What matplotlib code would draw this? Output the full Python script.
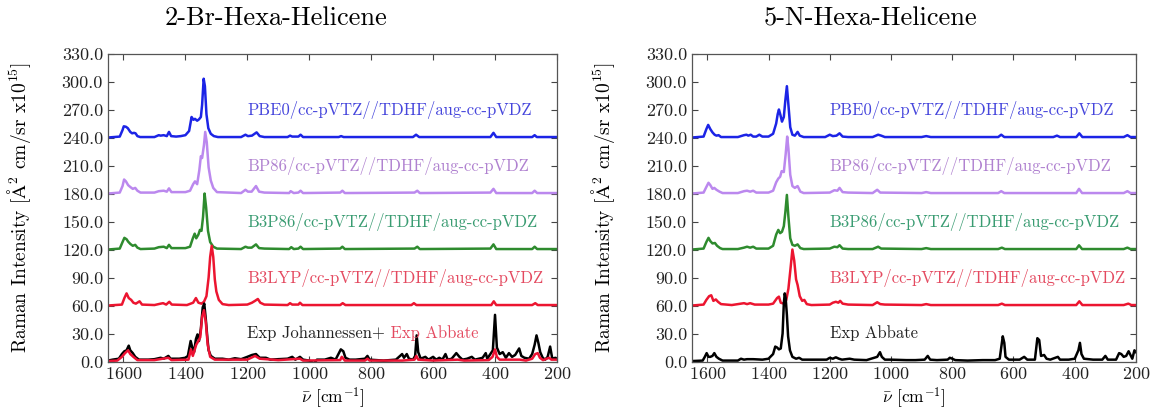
import numpy as np
import matplotlib
matplotlib.use("Agg")
import matplotlib.pyplot as plt

plt.rcParams['font.family'] = ['cmr10', 'DejaVu Serif']
plt.rcParams['mathtext.fontset'] = 'cm'
plt.rcParams['axes.unicode_minus'] = False
plt.rcParams['axes.formatter.use_mathtext'] = True

# ---- 2-Br-Hexa-Helicene : (wavenumber, intensity) ----
br_pbe0 = [(1650,240),(1612,241),(1603,248),(1599,252),(1592,251.5),(1586,250),(1578,246),(1572,244.5),
           (1566,245),(1561,244.5),(1555,241.5),(1546,240.5),(1500,240.5),(1486,242.5),(1480,242),
           (1470,242.5),(1460,241.5),(1453,246),(1446,241.5),(1430,241),(1415,241.5),(1400,242.5),
           (1388,247),(1380,262),(1374,259),(1369,260),(1362,258),(1356,259.5),(1350,262),(1346,275),
           (1341,303),(1337,295),(1332,265),(1326,250),(1318,244),(1308,241.5),(1295,240.5),(1220,240.5),
           (1206,243),(1198,241.5),(1185,242),(1170,245.5),(1160,241.5),(1145,240.5),(1070,240.5),
           (1062,242),(1055,241),(1035,241),(1028,243),(1020,240.5),(905,240.5),(897,241.5),(889,240.5),
           (665,240.5),(655,243),(645,240.5),(415,240.5),(405,245),(396,240.5),(280,240.5),(272,242.5),
           (265,240.5),(200,240.5)]
br_bp86 = [(1650,180),(1612,181),(1603,188),(1598,195),(1592,193),(1585,189),(1578,187),(1570,185),
           (1562,186),(1555,183),(1545,181),(1500,181),(1486,182.5),(1470,183),(1460,182),(1453,185.5),
           (1445,181.5),(1400,181.5),(1385,183),(1375,190),(1369,193),(1362,190),(1355,205),(1350,220),
           (1346,218),(1340,232),(1336,246),(1331,235),(1325,208),(1318,194),(1310,186),(1298,181.5),
           (1220,180.5),(1206,184),(1198,182),(1186,182),(1172,188),(1162,182),(1145,181),(1065,180.5),
           (1060,182.5),(1050,180.5),(1035,181),(1028,183),(1020,180.5),(900,181),(893,183),(885,180.5),
           (660,181),(651,183),(643,180.5),(415,181),(405,185),(396,180.5),(280,180.5),(272,183),
           (264,180.5),(200,180.5)]
br_b3p86 = [(1650,120),(1612,121),(1603,128),(1597,132.5),(1590,131),(1585,128.5),(1578,126),(1570,124),
            (1562,125),(1555,122),(1545,120.5),(1500,121),(1486,122.5),(1470,123),(1460,121.5),(1453,125),
            (1445,121.5),(1400,121.5),(1385,123),(1376,132),(1370,137),(1365,132),(1358,136),(1353,141),
            (1348,140),(1343,155),(1338,180),(1333,165),(1327,140),(1320,128),(1310,123),(1298,121),
            (1220,120.5),(1206,123),(1198,122),(1186,122),(1172,125.5),(1162,121.5),(1145,121),(1065,120.5),
            (1058,122.5),(1050,120.5),(1035,121),(1028,123),(1020,120.5),(900,121),(893,123),(885,120.5),
            (660,121),(651,123),(643,120.5),(415,121),(405,125.5),(396,120.5),(280,120.5),(272,123),
            (264,120.5),(200,120.5)]
br_b3lyp = [(1650,60),(1605,61),(1597,68),(1590,73),(1583,68),(1575,66),(1568,63),(1560,62),(1548,64.5),
            (1540,61),(1500,60.5),(1480,62),(1472,62.5),(1462,61),(1452,64),(1444,61),(1395,60.5),(1375,63),
            (1366,68),(1358,63),(1348,62),(1340,64),(1332,70),(1325,90),(1320,112),(1315,124),(1310,112),
            (1305,88),(1300,75),(1292,66),(1280,61.5),(1260,60.5),(1200,61),(1185,63),(1175,65),(1166,67),
            (1158,63),(1145,61),(1070,60.5),(1062,62.5),(1055,61),(1035,61),(1030,63),(1022,60.5),(900,60.5),
            (892,62.5),(883,60.5),(670,60.5),(662,62.5),(654,60.5),(412,60.5),(404,64.5),(396,60.5),
            (280,60.5),(270,62.5),(262,60.5),(200,60.5)]
br_exp_joh = [(1650,1),(1635,2),(1615,3),(1605,8),(1597,11),(1590,12),(1583,17),(1578,12),(1570,9),(1562,5),
              (1550,2),(1520,2),(1500,2.5),(1480,4),(1470,3),(1455,6),(1448,3),(1420,3),(1400,4),(1392,6),
              (1383,22),(1377,14),(1372,10),(1366,24),(1361,29),(1356,22),(1350,35),(1344,58),(1339,62),
              (1334,45),(1329,25),(1325,12),(1318,6),(1305,3),(1280,3),(1260,2),(1240,3.5),(1220,2.5),
              (1200,5),(1185,7),(1172,8),(1160,4),(1140,4),(1125,2),(1100,2.5),(1070,3),(1055,5),(1045,2),
              (1030,5),(1020,2),(1000,1),(985,-2),(975,2),(950,2),(930,4),(915,2),(898,13),(890,11),(883,4),
              (870,2),(850,2),(820,3),(812,6),(805,2),(760,1),(720,2),(700,8),(694,4),(685,8),(678,3),
              (665,2),(658,6),(653,28),(648,10),(640,3),(625,5),(615,2),(600,5),(590,2),(580,4),(570,2),
              (560,8),(553,2),(540,3),(525,9),(515,5),(505,2),(490,3),(475,5),(465,2),(440,4),(430,9),
              (425,3),(415,8),(407,12),(400,50),(394,15),(385,8),(375,10),(365,4),(355,9),(345,5),(335,7),
              (322,14),(315,6),(305,4),(290,3),(280,8),(272,18),(266,28),(260,20),(254,10),(246,4),(238,2),
              (230,5),(222,16),(215,3),(205,4),(200,3)]
br_exp_abb = [(1650,0.5),(1620,1),(1605,5),(1595,9),(1585,12),(1578,8),(1568,5),(1555,1.5),(1500,1.5),
              (1455,4),(1445,1.5),(1390,2),(1382,13),(1376,6),(1365,18),(1358,22),(1352,26),(1346,48),
              (1340,55),(1334,42),(1328,18),(1320,5),(1305,2),(1200,2),(1175,6),(1160,3),(1100,1.5),
              (1030,3),(1020,1),(900,1.5),(895,5),(885,1),(820,1),(812,3),(805,1),(700,1),(660,2),(654,6),
              (648,2),(600,1),(520,2),(500,1),(420,1.5),(408,5),(400,13),(394,5),(385,2),(320,2),(300,1),
              (280,3),(270,8),(262,9),(255,4),(245,1.5),(225,4),(218,2),(200,2)]

# ---- 5-N-Hexa-Helicene ----
n_pbe0 = [(1650,240),(1612,241),(1603,249),(1597,253.5),(1590,249),(1583,245.5),(1576,243),(1570,242),
          (1563,242.5),(1555,240.5),(1500,240.5),(1480,242.5),(1472,243),(1466,242),(1458,243),(1450,241),
          (1440,241),(1430,243),(1420,241),(1400,241),(1385,244),(1375,255),(1370,265),(1366,270),(1361,264),
          (1356,257),(1350,262),(1345,280),(1340,295),(1335,275),(1329,251),(1322,243),(1314,242),(1305,246),
          (1298,242),(1285,240.5),(1215,240.5),(1200,243),(1190,241.5),(1178,242),(1168,244.5),(1158,241),
          (1140,240.5),(1060,240.5),(1042,243),(1032,242),(1020,240.5),(900,240.5),(885,241.5),(870,240.5),
          (650,240.5),(640,243),(630,240.5),(470,240.5),(458,242),(448,240.5),(395,240.5),(385,244.5),
          (375,240.5),(240,240.5),(228,242.5),(218,240.5),(200,240.5)]
n_bp86 = [(1650,180),(1612,181),(1603,187),(1596,191.5),(1590,189),(1583,185),(1577,186),(1570,184),
          (1560,182),(1550,180.5),(1500,180.5),(1480,182.5),(1470,183),(1460,182),(1450,183),(1440,181),
          (1400,181),(1385,183),(1375,192),(1368,196),(1362,198),(1357,204),(1350,203),(1344,222),(1339,241),
          (1335,228),(1329,200),(1322,188),(1314,186),(1305,188),(1296,182),(1285,180.5),(1200,181),
          (1185,183.5),(1175,183),(1168,186),(1158,181.5),(1140,181),(1060,180.5),(1045,184),(1035,181),
          (900,180.5),(885,181.5),(870,180.5),(650,180.5),(640,182.5),(630,180.5),(395,180.5),(386,185),
          (376,180.5),(240,180.5),(228,182.5),(218,180.5),(200,180.5)]
n_b3p86 = [(1650,120),(1612,121),(1603,128),(1596,132.5),(1590,129),(1583,126.5),(1575,127),(1568,124),
           (1558,121.5),(1550,120.5),(1500,120.5),(1480,122),(1470,123),(1460,122),(1450,123),(1440,121),
           (1400,121),(1385,124),(1375,136),(1368,141),(1362,137.5),(1356,139),(1350,145),(1345,160),
           (1340,178.5),(1335,155),(1329,132),(1322,125),(1314,124),(1305,125.5),(1296,121.5),(1285,120.5),
           (1200,121),(1185,123),(1175,122.5),(1168,124.6),(1158,121),(1140,120.5),(1060,120.5),(1042,123),
           (1032,121),(900,120.5),(885,121.5),(870,120.5),(650,120.5),(638,122),(628,120.5),(395,120.5),
           (386,124.5),(376,120.5),(240,120.5),(228,122),(218,120.5),(200,120.5)]
n_b3lyp = [(1650,60),(1612,61),(1603,66),(1594,70),(1587,71),(1580,65),(1572,66.5),(1565,64),(1555,61.5),
           (1520,60.5),(1490,62),(1480,62.5),(1470,61.5),(1460,62.5),(1445,61),(1400,61),(1385,62),(1372,68),
           (1366,69.5),(1360,63),(1350,62),(1342,66),(1335,78),(1328,100),(1322,120),(1316,108),(1310,88),
           (1305,82),(1298,70),(1290,65),(1283,66),(1275,61.5),(1260,60.5),(1200,61),(1190,63),(1180,64),
           (1172,63),(1166,65),(1158,62),(1140,61),(1060,60.5),(1045,63.5),(1035,61.5),(1020,61),(900,60.5),
           (885,61.5),(870,60.5),(650,60.5),(638,62),(628,60.5),(395,60.5),(385,64.5),(375,60.5),(240,60.5),
           (225,62),(215,60.5),(200,60.5)]
n_exp_abb = [(1650,0.5),(1615,1),(1608,5),(1602,9),(1596,5),(1590,5),(1583,6),(1577,9),(1570,5),(1562,3),
             (1550,1),(1500,1),(1490,3),(1480,2),(1470,2.5),(1450,2.5),(1420,2),(1400,3),(1385,8),(1378,16),
             (1372,15),(1366,13),(1360,14),(1354,30),(1350,62),(1347,73),(1344,68),(1340,50),(1336,27),
             (1330,12),(1322,5),(1310,3),(1300,4),(1290,2),(1250,2),(1210,2),(1200,4),(1190,3),(1180,4.5),
             (1170,3),(1160,2),(1135,3),(1120,2),(1080,1.5),(1045,5),(1036,10),(1030,5),(1020,2),(1000,2),
             (950,1.5),(920,1.5),(890,2),(880,6),(872,2),(850,1.5),(815,2),(808,4),(800,3),(790,1.5),
             (750,1),(700,1.5),(660,1.5),(645,3),(635,27),(630,20),(626,5),(615,2),(580,2),(565,5),(555,2),
             (530,2),(522,25),(516,23),(510,6),(500,7),(492,3),(480,2),(455,5),(448,2),(420,2),(400,3),
             (388,12),(383,20),(378,8),(370,3),(340,2),(310,2),(300,6),(292,2),(265,2),(255,9),(248,8),
             (240,5),(232,6),(224,11),(218,7),(212,3),(205,12),(200,10)]

methods = ["PBE0/cc-pVTZ//TDHF/aug-cc-pVDZ", "BP86/cc-pVTZ//TDHF/aug-cc-pVDZ",
           "B3P86/cc-pVTZ//TDHF/aug-cc-pVDZ", "B3LYP/cc-pVTZ//TDHF/aug-cc-pVDZ"]
label_y = [270, 210, 150, 90]
line_cols = ["#1c24e6", "#bb88ee", "#2e8b2e", "#ec1530"]
text_cols = ["#4646dc", "#b082d0", "#3a9c72", "#e44a60"]

fig = plt.figure(figsize=(11.5, 4.11), dpi=100)
ax1 = fig.add_axes([0.0939, 0.1204, 0.3904, 0.7494])
ax2 = fig.add_axes([0.6017, 0.1204, 0.3861, 0.7494])

def draw(ax, calc, exps, exp_cols, title, title_x):
    for d, c in zip(calc, line_cols):
        a = np.array(d)
        ax.plot(a[:, 0], a[:, 1], color=c, lw=1.8)
    for d, c in zip(exps, exp_cols):
        a = np.array(d)
        ax.plot(a[:, 0], a[:, 1], color=c, lw=1.8)
    for m, yy, c in zip(methods, label_y, text_cols):
        ax.text(1200, yy, m, color=c, fontsize=12, va='center', ha='left')
    ax.set_xlim(1650, 200)
    ax.set_ylim(0, 330)
    ax.set_xticks(np.arange(1600, 199, -200))
    ax.set_yticks(np.arange(0, 331, 30))
    ax.set_yticklabels(["%.1f" % v for v in np.arange(0, 331, 30)])
    ax.tick_params(direction='in', top=True, right=True, length=4, labelsize=13,
                   color='#444444', labelcolor='#222222')
    for s in ax.spines.values():
        s.set_color('#555555')
        s.set_linewidth(0.9)
    ax.set_xlabel(r"$\bar{\nu}$ [cm$^{-1}$]", fontsize=12.5, labelpad=2)
    ax.set_ylabel(r"Raman Intensity [$\mathrm{\AA}^2$ cm/sr x10$^{15}$]", fontsize=14, labelpad=21)
    fig.text(title_x, 0.955, title, fontsize=19, ha='center', va='center')

draw(ax1, [br_pbe0, br_bp86, br_b3p86, br_b3lyp], [br_exp_joh, br_exp_abb], ["black", "#ee1133"],
     "2-Br-Hexa-Helicene", 0.24)
t = ax1.text(1200, 30, "Exp Johannessen+", color="#222222", fontsize=12, va='center', ha='left')
ax1.annotate(" Exp Abbate", xy=(1, 0), xycoords=t, va='bottom', ha='left',
             color="#e44a60", fontsize=12)

draw(ax2, [n_pbe0, n_bp86, n_b3p86, n_b3lyp], [n_exp_abb], ["black"], "5-N-Hexa-Helicene", 0.757)
ax2.text(1200, 30, "Exp Abbate", color="#222222", fontsize=12, va='center', ha='left')

fig.savefig("out.png", dpi=100)
